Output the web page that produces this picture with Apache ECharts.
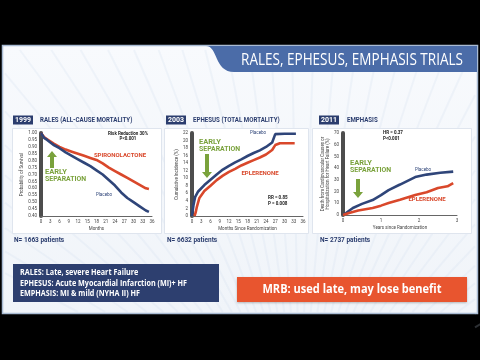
<!DOCTYPE html>
<html><head><meta charset="utf-8">
<script src="https://cdn.jsdelivr.net/npm/echarts@6/dist/echarts.min.js"></script>
<style>html,body{margin:0;padding:0;background:#000}#c{width:480px;height:360px}</style>
</head><body><div id="c"></div>
<script>
// ---------- DATA ----------
const ralesMonths   = [0, 1, 2, 4, 6, 8, 10, 12, 14, 16, 18, 20, 22, 24, 26, 28, 30, 32, 34, 35];
const ralesSpiro    = [1.0, 0.97, 0.955, 0.925, 0.90, 0.88, 0.865, 0.85, 0.835, 0.82, 0.805, 0.78, 0.75, 0.725, 0.70, 0.675, 0.65, 0.625, 0.60, 0.595];
const ralesPlacebo  = [1.0, 0.965, 0.95, 0.915, 0.89, 0.86, 0.835, 0.81, 0.785, 0.76, 0.73, 0.70, 0.66, 0.62, 0.57, 0.53, 0.50, 0.47, 0.44, 0.43];
const ralesXTicks   = ['0','3','6','9','12','15','18','21','24','27','30','33','36'];

const ephPlaceboMonths = [0, 0.5, 1, 2, 4, 6, 8, 10, 12, 14, 16, 18, 20, 22, 24, 26, 27, 30, 33.7];
const ephPlacebo       = [0, 3, 5, 6.5, 8.2, 9.6, 11, 12.3, 13.3, 14.2, 15, 15.9, 16.7, 17.4, 18.3, 19.5, 21.7, 21.8, 21.8];
const ephEpleMonths    = [0.8, 1.2, 1.6, 2.4, 4, 6, 8, 10, 12, 14, 16, 18, 20, 22, 24, 26, 27, 28.5, 33.3];
const ephEplerenone    = [0, 1, 2.5, 4.8, 6.6, 8, 9.5, 10.7, 11.7, 12.5, 13.4, 14.1, 14.8, 15.5, 16.3, 17.5, 18.8, 19.3, 19.3];

const empPlaceboYears  = [0, 0.08, 0.26, 0.5, 0.78, 1.0, 1.2, 1.5, 1.9, 2.2, 2.56, 2.9];
const empPlacebo       = [0, 1.7, 6, 9.5, 12.8, 17, 21.3, 26, 32.4, 34.5, 36, 37];
const empEpleYears     = [0, 0.16, 0.4, 0.78, 1.0, 1.2, 1.5, 1.9, 2.2, 2.5, 2.75, 2.9];
const empEplerenone    = [0, 1.7, 3.8, 6, 8, 10.2, 13, 17, 19.5, 23, 24.5, 27.3];

const pairs = (xs, ys) => xs.map((x, i) => [x, ys[i]]);

const NAVY = '#2b3d6e', BLUE = '#2f4579', RED = '#d9482b', GREEN = '#7aa23c', BANNER = '#4b6ca8';

// ---------- decoration helpers ----------
const G = [];
G.push({type:'rect', z:-20, shape:{x:2.5,y:45.5,width:475,height:268},
  style:{fill:new echarts.graphic.LinearGradient(0,0,0,1,[{offset:0,color:'#f8fafd'},{offset:1,color:'#f0f4f9'}]), stroke:'#a9bbd3', lineWidth:1.5}});
(function(){
  const cx = 300, cy = 430;
  for (let a = -62; a <= 62; a += 3.2) {
    const r = a*Math.PI/180;
    let x = cx + (cy-50)*Math.tan(r), y = 50;
    if (x < 5) { y = cy - (cx-5)/Math.tan(-r); x = 5; }
    if (x > 475) { y = cy - (475-cx)/Math.tan(r); x = 475; }
    const sx = cx + (cy-312)*Math.tan(r);
    G.push({type:'line', z:-19, shape:{x1:sx,y1:312,x2:x,y2:y}, style:{stroke:'rgba(205,220,238,0.22)', lineWidth:2}});
  }
})();
(function(){
  const pts = [];
  const p0=[206,46], p1=[218,46], p2=[214,72], p3=[234,72];
  for (let i=0;i<=16;i++){ const t=i/16, u=1-t;
    pts.push([u*u*u*p0[0]+3*u*u*t*p1[0]+3*u*t*t*p2[0]+t*t*t*p3[0], u*u*u*p0[1]+3*u*u*t*p1[1]+3*u*t*t*p2[1]+t*t*t*p3[1]]); }
  pts.push([477,72],[477,46]);
  G.push({type:'polygon', z:-5, shape:{points:pts}, style:{fill:BANNER}});
})();
function txt(x, y, text, size, color, opts={}) {
  return {type:'text', z:50, x, y, scaleX: opts.sx || 1, rotation: opts.rot || 0,
    style:{text, fill:color, font:(opts.bold?'bold ':'')+size+'px '+(opts.family||'"Open Sans"'),
      align: opts.align || 'left', verticalAlign: 'middle'}};
}
G.push(txt(352, 60, 'RALES, EPHESUS, EMPHASIS TRIALS', 16.5, '#ffffff', {align:'center', sx:0.82}));

[[12,128,149,105],[164,128,144,105],[312,128,159,105]].forEach(p=>{
  G.push({type:'rect', z:-4, shape:{x:p[0]+0.5,y:p[1]+0.5,width:p[2],height:p[3]}, style:{fill:'#ffffff', stroke:'#dfe5ee', lineWidth:1}});
});
[[13,'1999','RALES (ALL-CAUSE MORTALITY)',40],[166,'2003','EPHESUS (TOTAL MORTALITY)',193],[319,'2011','EMPHASIS',347]].forEach(b=>{
  G.push({type:'rect', z:40, shape:{x:b[0],y:115.5,width:20,height:9}, style:{fill:NAVY}});
  G.push(txt(b[0]+10, 120.5, b[1], 7, '#fff', {bold:true, align:'center', family:'Roboto'}));
  G.push(txt(b[3], 120.5, b[2], 7.5, NAVY, {bold:true, family:'Roboto', sx:0.82}));
});
function arrow(x, yFrom, yTo) {
  const dir = yTo < yFrom ? -1 : 1;
  const headBase = yTo - dir*6;
  return {type:'polygon', z:45, shape:{points:[[x-2,yFrom],[x+2,yFrom],[x+2,headBase],[x+5,headBase],[x,yTo],[x-5,headBase],[x-2,headBase]]}, style:{fill:GREEN}};
}
G.push(arrow(52, 168, 151));
G.push(arrow(207, 154, 178));
G.push(arrow(358, 179, 198));
[[45,172],[199,142],[350,163]].forEach(p=>{
  G.push(txt(p[0], p[1], 'EARLY', 7.5, GREEN, {bold:true, family:'Roboto'}));
  G.push(txt(p[0], p[1]+7.5, 'SEPARATION', 7.5, GREEN, {bold:true, family:'Roboto', sx:0.92}));
});
G.push(txt(120, 155, 'SPIRONOLACTONE', 6, RED, {bold:true, align:'center', family:'Roboto'}));
G.push(txt(104, 195, 'Placebo', 4.5, BLUE, {align:'center', family:'Roboto'}));
G.push(txt(128, 133.5, 'Risk Reduction 30%', 4.5, '#222', {align:'center', family:'Roboto', bold:true}));
G.push(txt(128, 138.5, 'P<0.001', 4.5, '#222', {align:'center', family:'Roboto', bold:true}));

G.push(txt(258, 133, 'Placebo', 4.5, BLUE, {align:'center', family:'Roboto'}));
G.push(txt(260, 173, 'EPLERENONE', 6, RED, {bold:true, align:'center', family:'Roboto'}));
G.push(txt(268, 198, 'RR = 0.85', 4.5, '#222', {family:'Roboto', bold:true}));
G.push(txt(268, 203.5, 'P = 0.008', 4.5, '#222', {family:'Roboto', bold:true}));

G.push(txt(423, 170, 'Placebo', 4.5, BLUE, {align:'center', family:'Roboto'}));
G.push(txt(427, 199, 'EPLERENONE', 6, RED, {bold:true, align:'center', family:'Roboto'}));
G.push(txt(383, 133, 'HR = 0.37', 4.5, '#222', {family:'Roboto', bold:true}));
G.push(txt(383, 138.5, 'P<0.001', 4.5, '#222', {family:'Roboto', bold:true}));

G.push(txt(14, 240, 'N= 1663 patients', 6.5, NAVY, {bold:true, family:'Roboto'}));
G.push(txt(167, 240, 'N= 6632 patients', 6.5, NAVY, {bold:true, family:'Roboto'}));
G.push(txt(320, 240, 'N= 2737 patients', 6.5, NAVY, {bold:true, family:'Roboto'}));

G.push({type:'rect', z:30, shape:{x:13,y:264,width:206,height:38}, style:{fill:'#2d3f6f'}});
G.push(txt(20, 273, 'RALES: Late, severe Heart Failure', 8, '#fff', {bold:true, sx:0.9}));
G.push(txt(20, 283.5, 'EPHESUS: Acute Myocardial Infarction (MI)+ HF', 8, '#fff', {bold:true, sx:0.9}));
G.push(txt(20, 294, 'EMPHASIS: MI & mild (NYHA II) HF', 8, '#fff', {bold:true, sx:0.9}));
G.push({type:'rect', z:30, shape:{x:237,y:277,width:230,height:25}, style:{fill:'#e8552f', shadowBlur:2, shadowColor:'rgba(0,0,0,0.25)', shadowOffsetY:1}});
G.push(txt(352, 289.5, 'MRB: used late, may lose benefit', 12, '#fff', {bold:true, align:'center', sx:0.92}));

// ---------- AXES ----------
const axisLbl = {fontSize:4.5, color:'#444', fontFamily:'Roboto', margin:3};
function yAx(gi, min, max, interval, name, fmt, gap) {
  return {type:'value', gridIndex:gi, min, max, interval,
    axisLine:{show:true, lineStyle:{color:'#4d4d4d', width:4}},
    axisTick:{show:false}, splitLine:{show:false},
    axisLabel:Object.assign({}, axisLbl, {formatter:fmt, margin:4}),
    name, nameLocation:'middle', nameGap:gap, nameTextStyle:{fontSize:4.5, color:'#444', fontFamily:'Roboto', lineHeight:5}};
}
function xAx(gi, min, max, interval, name) {
  return {type:'value', gridIndex:gi, min, max, interval,
    axisLine:{show:true, onZero:false, lineStyle:{color:'#666', width:1}},
    axisTick:{show:false}, splitLine:{show:false},
    axisLabel:Object.assign({}, axisLbl),
    name, nameLocation:'middle', nameGap:10, nameTextStyle:{fontSize:4.5, color:'#444', fontFamily:'Roboto'}};
}
const lineS = (xi, data, color) => ({type:'line', xAxisIndex:xi, yAxisIndex:xi, data, showSymbol:false, symbol:'none',
  lineStyle:{color, width:2.6}, z:10, animation:false});

const option = {
  animation:false,
  backgroundColor:'#000',
  graphic: G,
  grid:[
    {left:41, top:133, width:111, height:83},
    {left:192, top:133, width:111, height:83},
    {left:343, top:133, width:114, height:82}
  ],
  xAxis:[
    Object.assign(xAx(0, 0, 36, 3, 'Months'), {axisLabel:Object.assign({}, axisLbl, {formatter:(v)=>ralesXTicks[Math.round(v/3)]})}),
    xAx(1, 0, 36, 3, 'Months Since Randomization'),
    xAx(2, 0, 3, 1, 'Years since Randomization')
  ],
  yAxis:[
    yAx(0, 0.40, 1.0, 0.05, 'Probability of Survival', v=>v.toFixed(2), 16),
    yAx(1, 0, 22, 2, 'Cumulative Incidence (%)', v=>String(v), 12),
    yAx(2, 0, 70, 10, 'Death from Cardiovascular Causes or\nHospitalization for Heart Failure (%)', v=>String(v), 12)
  ],
  series:[
    lineS(0, pairs(ralesMonths, ralesSpiro), RED),
    lineS(0, pairs(ralesMonths, ralesPlacebo), BLUE),
    lineS(1, pairs(ephPlaceboMonths, ephPlacebo), BLUE),
    lineS(1, pairs(ephEpleMonths, ephEplerenone), RED),
    lineS(2, pairs(empPlaceboYears, empPlacebo), BLUE),
    lineS(2, pairs(empEpleYears, empEplerenone), RED)
  ]
};
const chart = echarts.init(document.getElementById('c'), null, {renderer:'canvas'});
chart.setOption(option);
</script></body></html>
